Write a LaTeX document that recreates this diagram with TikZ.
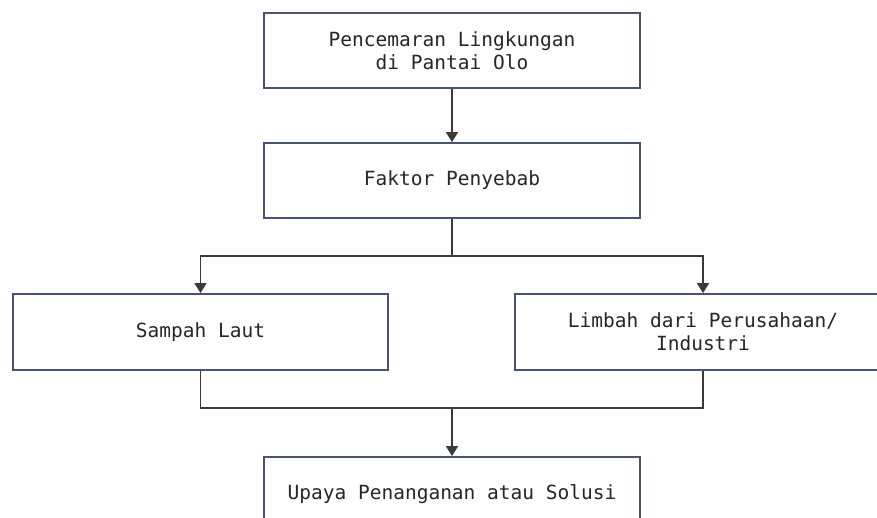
\documentclass[tikz,border=0pt]{standalone}
\usepackage{fontspec}
\newfontfamily\diagfont{DejaVu Sans Mono}
\usetikzlibrary{arrows.meta}
\definecolor{boxedge}{HTML}{4A5275}
\definecolor{linecol}{HTML}{3A3A3A}
\definecolor{txtcol}{HTML}{262626}
\tikzset{
  flowbox/.style={draw=boxedge, line width=1.8pt, fill=white, minimum width=376pt, minimum height=75pt, inner sep=0pt, align=center, text=txtcol, font=\diagfont\fontsize{19.5}{23}\selectfont},
  conn/.style={draw=linecol, line width=1.8pt},
  arr/.style={conn, -{Triangle[width=12pt,length=10pt]}}
}
\begin{document}
\begin{tikzpicture}[x=1pt,y=-1pt]
\useasboundingbox[fill=white] (0,0) rectangle (877,518);
\node[flowbox] (top) at (452,50.5) {Pencemaran Lingkungan\\di Pantai Olo};
\node[flowbox] (fak) at (452,180.5) {Faktor Penyebab};
\node[flowbox, minimum width=375pt, minimum height=76pt] (samp) at (200.5,332) {Sampah Laut};
\node[flowbox, minimum height=76pt] (limb) at (703,332) {Limbah dari Perusahaan/\\Industri};
\node[flowbox] (upaya) at (452,494.5) {Upaya Penanganan atau Solusi};
\coordinate (split) at (452,256);
\coordinate (merge) at (452,408);
\draw[arr] (top.south) -- (fak.north);
\draw[conn] (fak.south) -- (split);
\draw[arr] (split) -| (samp.north);
\draw[arr] (split) -| (limb.north);
\draw[conn] (samp.south) |- (merge);
\draw[conn] (limb.south) |- (merge);
\draw[arr] (merge) -- (upaya.north);
\end{tikzpicture}
\end{document}
